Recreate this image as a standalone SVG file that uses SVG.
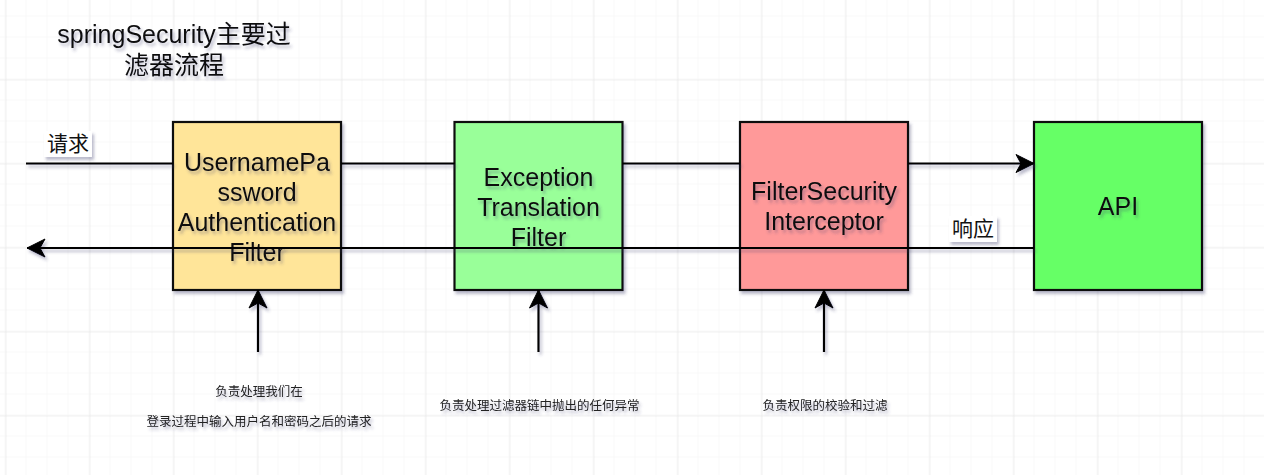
<svg xmlns="http://www.w3.org/2000/svg" width="1264" height="475" viewBox="0 0 1264 475">
<defs>
<pattern id="minor" x="5.5" y="16.5" width="21" height="21" patternUnits="userSpaceOnUse">
<path d="M21 0V21M0 21H21" fill="none" stroke="#f2f2f2" stroke-width="1"/>
</pattern>
<pattern id="major" x="5.5" y="79.5" width="84" height="84" patternUnits="userSpaceOnUse">
<path d="M0 0V84M0 0H84" fill="none" stroke="#e2e2e2" stroke-width="1"/>
</pattern>
<filter id="sh" x="-20%" y="-20%" width="150%" height="150%">
<feDropShadow dx="2" dy="3" stdDeviation="1.6" flood-color="#3a3a6a" flood-opacity="0.35"/>
</filter>
<filter id="shl" filterUnits="userSpaceOnUse" x="0" y="0" width="1264" height="475">
<feDropShadow dx="2" dy="3" stdDeviation="1.6" flood-color="#3a3a6a" flood-opacity="0.35"/>
</filter>
<marker id="ah" viewBox="0 0 20 20" refX="19" refY="10" markerWidth="20" markerHeight="20" markerUnits="userSpaceOnUse" orient="auto">
<path d="M19 10L1 1L6 10L1 19Z" fill="#000" stroke="#000" stroke-width="1"/>
</marker>
<style>
.box{stroke:#111;stroke-width:2.2;filter:url(#sh)}
.lbl{font-family:"Liberation Sans","Noto Sans CJK SC",sans-serif;font-size:25px;fill:#111;text-anchor:middle;filter:url(#sh)}
.cn{font-family:"Liberation Sans","Noto Sans CJK SC",sans-serif;font-size:21px;fill:#111;text-anchor:middle}
.sm{font-family:"Noto Sans CJK SC",sans-serif;font-size:12.5px;fill:#222;text-anchor:middle;filter:url(#sh)}
.ln{stroke:#000;stroke-width:2.2;fill:none;filter:url(#shl)}
</style>
</defs>
<rect width="1264" height="475" fill="#fff"/>
<rect width="1264" height="475" fill="url(#minor)"/>
<rect width="1264" height="475" fill="url(#major)"/>

<g id="title">
<text class="lbl" x="174" y="43">springSecurity主要过</text>
<text class="lbl" x="174" y="74">滤器流程</text>
</g>

<g id="node-upaf">
<rect class="box" x="173" y="122" width="168" height="168" fill="#FFE599"/>
<text class="lbl" x="257" y="171">UsernamePa</text>
<text class="lbl" x="257" y="201">ssword</text>
<text class="lbl" x="257" y="231">Authentication</text>
<text class="lbl" x="257" y="261">Filter</text>
</g>
<g id="node-etf">
<rect class="box" x="454.5" y="122" width="168" height="168" fill="#99FF99"/>
<text class="lbl" x="538.5" y="186">Exception</text>
<text class="lbl" x="538.5" y="216">Translation</text>
<text class="lbl" x="538.5" y="246">Filter</text>
</g>
<g id="node-fsi">
<rect class="box" x="740" y="122" width="168" height="168" fill="#FF9999"/>
<text class="lbl" x="824" y="200">FilterSecurity</text>
<text class="lbl" x="824" y="230">Interceptor</text>
</g>
<g id="node-api">
<rect class="box" x="1034" y="122" width="168" height="168" fill="#66FF66"/>
<text class="lbl" x="1118" y="215">API</text>
</g>

<g id="connectors">
<path class="ln" d="M26 163.5H173M341 163.5H454.5M622.5 163.5H740"/>
<path class="ln" d="M908 163.5H1034" marker-end="url(#ah)"/>
<path class="ln" d="M1034 248H27" marker-end="url(#ah)"/>
<path class="ln" d="M258 352V290" marker-end="url(#ah)"/>
<path class="ln" d="M538.5 352V290" marker-end="url(#ah)"/>
<path class="ln" d="M824 352V290" marker-end="url(#ah)"/>
<g id="label-req">
<rect x="44" y="131" width="48" height="26" fill="#fff" filter="url(#sh)"/>
<text class="cn" x="68" y="151">请求</text>
</g>
<g id="label-resp">
<rect x="949" y="216" width="48" height="26" fill="#fff" filter="url(#sh)"/>
<text class="cn" x="973" y="236">响应</text>
</g>
</g>

<g id="note-1">
<text class="sm" x="259" y="396">负责处理我们在</text>
<text class="sm" x="259" y="426">登录过程中输入用户名和密码之后的请求</text>
</g>
<g id="note-2">
<text class="sm" x="539.5" y="409.5">负责处理过滤器链中抛出的任何异常</text>
</g>
<g id="note-3">
<text class="sm" x="825" y="409.5">负责权限的校验和过滤</text>
</g>
</svg>
